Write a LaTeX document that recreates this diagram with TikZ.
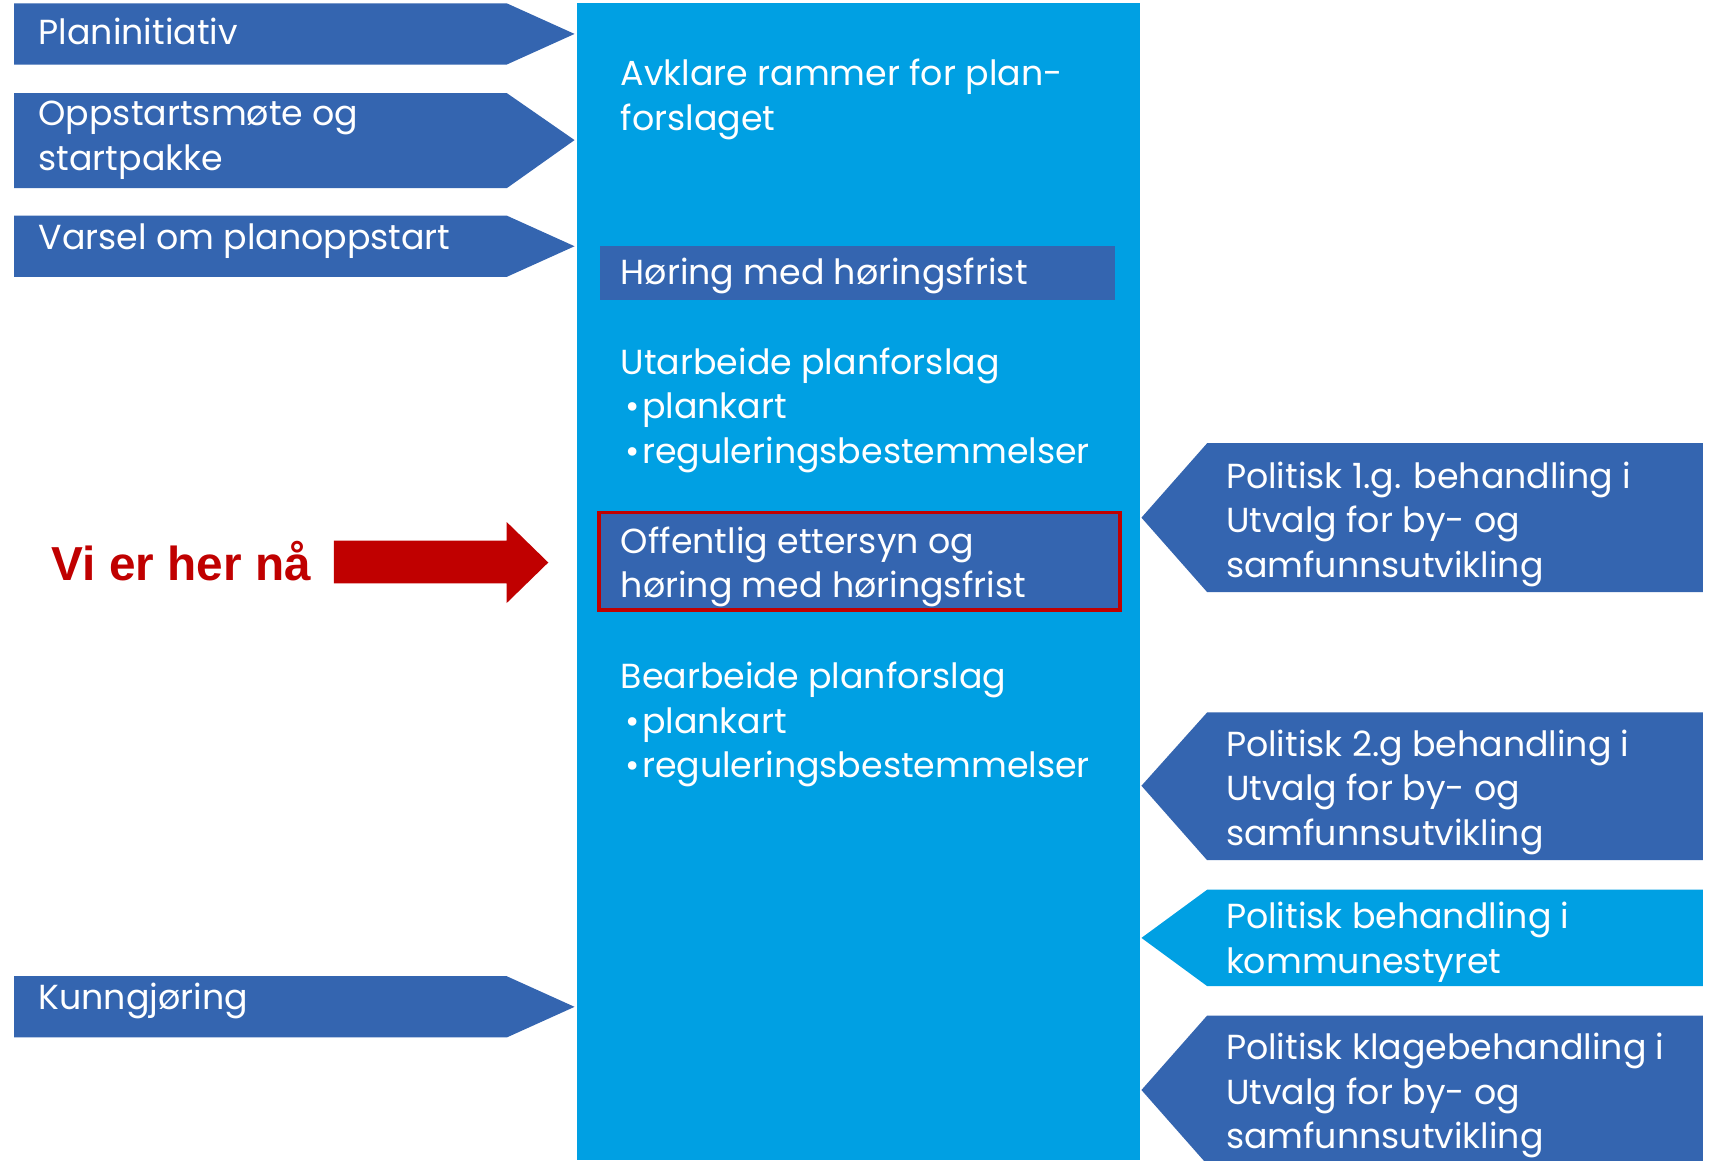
\documentclass[tikz,border=0pt]{standalone}
\usepackage{fontspec}
\setmainfont{Poppins}
\newfontfamily\arialfont{Liberation Sans}
\definecolor{dblue}{RGB}{52,101,176}
\definecolor{lblue}{RGB}{0,160,227}
\definecolor{dred}{RGB}{192,0,0}
\newcommand\bul{\hspace*{3pt}\textbullet\hspace{1.5pt}}
\tikzset{
  txt/.style={text=white, font=\fontsize{22.6}{29}\selectfont, align=left, inner sep=0pt, anchor=west},
  darkfill/.style={fill=dblue},
  lightfill/.style={fill=lblue}
}
\begin{document}
\begin{tikzpicture}[x=0.025cm,y=-0.025cm]
\fill[white] (0,0) rectangle (1568,1060);
\useasboundingbox (0,0) rectangle (1568,1060);
\clip (0,0) rectangle (1568,1060);
% central column
\fill[lightfill] (527,3) rectangle (1042,1060);
% left arrows
\fill[darkfill] (13,3) -- (463,3) -- (525,31) -- (463,59) -- (13,59) -- cycle;
\fill[darkfill] (13,85) -- (463,85) -- (525,128) -- (463,172) -- (13,172) -- cycle;
\fill[darkfill] (13,197) -- (463,197) -- (525,225) -- (463,253) -- (13,253) -- cycle;
\fill[darkfill] (13,892) -- (463,892) -- (525,920) -- (463,948) -- (13,948) -- cycle;
% right arrows
\fill[darkfill] (1043,473) -- (1103,405) -- (1556,405) -- (1556,541) -- (1103,541) -- cycle;
\fill[darkfill] (1043,718) -- (1103,651) -- (1556,651) -- (1556,786) -- (1103,786) -- cycle;
\fill[lightfill] (1043,857) -- (1103,813) -- (1556,813) -- (1556,901) -- (1103,901) -- cycle;
\fill[darkfill] (1043,996) -- (1103,928) -- (1556,928) -- (1556,1064) -- (1103,1064) -- cycle;
% centre boxes
\fill[darkfill] (548,225) rectangle (1019,274);
\fill[darkfill] (546,467) rectangle (1025,559);
\draw[dred, line width=2.2pt] (547.5,468.5) rectangle (1023.5,557.5);
% red arrow
\fill[dred] (305,494) -- (463,494) -- (463,477) -- (501,514) -- (463,551) -- (463,533) -- (305,533) -- cycle;
% texts
\node[txt] (t1) at (35,29) {Planinitiativ};
\node[txt] (t2) at (35,128) {Oppstartsmøte og\\startpakke};
\node[txt] (t3) at (35,220) {Varsel om planoppstart};
\node[txt] (t4) at (35,915) {Kunngjøring};
\node[txt] (c1) at (567,91) {Avklare rammer for plan-\\forslaget};
\node[txt] (c2) at (567,252) {Høring med høringsfrist};
\node[txt] (c3) at (567,375) {Utarbeide planforslag\\\bul plankart\\\bul reguleringsbestemmelser};
\node[txt] (c4) at (567,518) {Offentlig ettersyn og\\høring med høringsfrist};
\node[txt] (c5) at (567,662) {Bearbeide planforslag\\\bul plankart\\\bul reguleringsbestemmelser};
\node[txt] (r1) at (1120,479) {Politisk 1.g. behandling i\\Utvalg for by- og\\samfunnsutvikling};
\node[txt] (r2) at (1120,724) {Politisk 2.g behandling i\\Utvalg for by- og\\samfunnsutvikling};
\node[txt] (r3) at (1120,861) {Politisk behandling i\\kommunestyret};
\node[txt] (r4) at (1120,1001) {Politisk klagebehandling i\\Utvalg for by- og\\samfunnsutvikling};
\node[anchor=west, inner sep=0pt, text=dred, font=\arialfont\bfseries\fontsize{31}{36}\selectfont] (here) at (47,513) {Vi er her nå};
\end{tikzpicture}
\end{document}
